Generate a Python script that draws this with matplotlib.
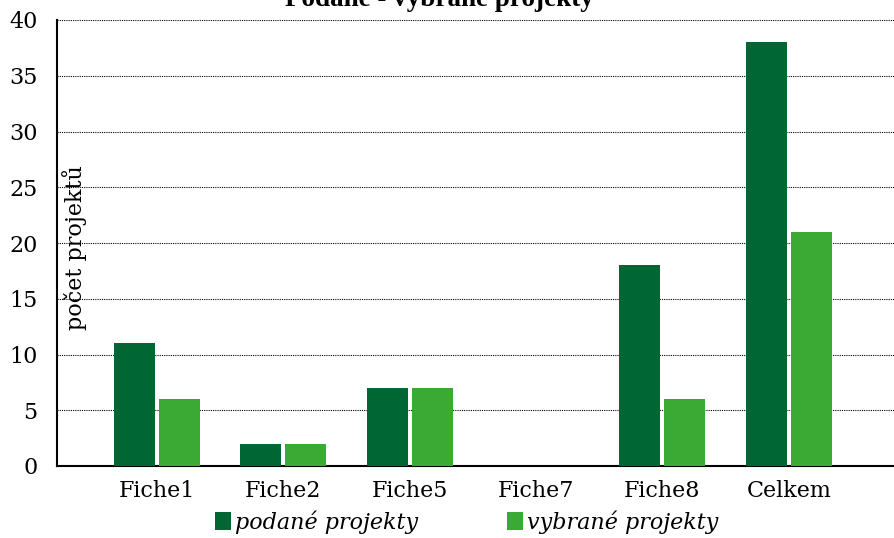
import matplotlib
matplotlib.use("Agg")
import matplotlib.pyplot as plt
import numpy as np

# data
categories = ["Fiche1", "Fiche2", "Fiche5", "Fiche7", "Fiche8", "Celkem"]
podane = [11, 2, 7, 0, 18, 38]
vybrane = [6, 2, 7, 0, 6, 21]

dark_green = "#006633"
light_green = "#3aaa35"

plt.rcParams['font.family'] = ['DejaVu Serif']

fig = plt.figure(figsize=(8.95, 5.38), dpi=100)
ax = fig.add_axes([57/895, 72/538, 838/895, 446/538])

x = np.arange(len(categories))
w = 0.324
off = 0.178
ax.bar(x - off, podane, w, color=dark_green, label="podané projekty", zorder=3)
ax.bar(x + off, vybrane, w, color=light_green, label="vybrané projekty", zorder=3)

ax.set_xlim(-0.79, 5.84)
ax.set_ylim(0, 40)
ax.set_yticks(range(0, 41, 5))
ax.set_xticks(x)
ax.set_xticklabels(categories)
ax.tick_params(axis='both', length=0, labelsize=16)
ax.tick_params(axis='y', pad=14)
ax.tick_params(axis='x', pad=10)
ax.yaxis.grid(True, linestyle=(0, (1, 1)), color='black', linewidth=0.8, zorder=0)

for s in ['top', 'right']:
    ax.spines[s].set_visible(False)
ax.spines['left'].set_linewidth(1.5)
ax.spines['bottom'].set_linewidth(1.5)

ax.text(0.021, 0.49, "počet projektů", transform=ax.transAxes, rotation=90,
        ha='center', va='center', fontsize=16)

# titulek je v originale nahore oriznuty
fig.text(439/895, 1 - 6/538, "Podané - vybrané projekty", ha='center',
         va='baseline', fontsize=19.5, fontweight='bold', family='Liberation Serif')

fig.legend(loc='center', bbox_to_anchor=(467/895, 1 - 522/538), ncol=2,
           frameon=False, handlelength=0.7, handleheight=0.9, handletextpad=0.2,
           columnspacing=4.0, prop={'style': 'italic', 'size': 16})

fig.savefig("out.png", dpi=100)
